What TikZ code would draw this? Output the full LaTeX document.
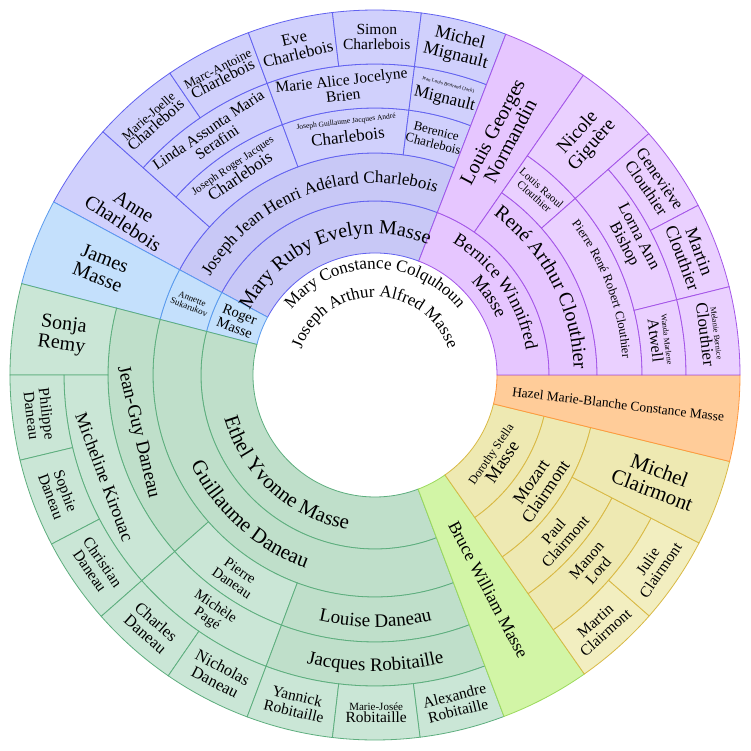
\documentclass[tikz,border=0pt]{standalone}
\usepackage{fontspec}
\setmainfont{Liberation Serif}
\usetikzlibrary{decorations.text}
\newcommand\fs[1]{\fontsize{#1}{#1}\selectfont}
\newcommand\seg[5]{\filldraw[#5] (#1:#3pt) arc[start angle=#1,end angle=#2,radius=#3pt] -- (#2:#4pt) arc[start angle=#2,end angle=#1,radius=#4pt] -- cycle;}
\newcommand\arctxt[5]{\path[decorate,decoration={text along path,text align=center,text={|\fs{#4}|#5}}] (#1:#3pt) arc[start angle=#1,end angle=#2,radius=#3pt];}
\definecolor{mrF}{HTML}{C8C8F6}\definecolor{mrL}{HTML}{D0D0FC}\definecolor{mrD}{HTML}{6262F0}
\definecolor{beF}{HTML}{E6C6FF}\definecolor{beL}{HTML}{EAD0FF}\definecolor{beD}{HTML}{A455E8}
\definecolor{roF}{HTML}{C4E0FC}\definecolor{roD}{HTML}{5A9BEE}
\definecolor{etF}{HTML}{BFDFCA}\definecolor{etL}{HTML}{CAE6D6}\definecolor{etD}{HTML}{5DAE7E}
\definecolor{brF}{HTML}{D2F5A6}\definecolor{brD}{HTML}{9CDA5C}
\definecolor{doF}{HTML}{EEE9B2}\definecolor{doL}{HTML}{F2EEC0}\definecolor{doD}{HTML}{D9B944}
\definecolor{haF}{HTML}{FFCC99}\definecolor{haD}{HTML}{FF9940}
\tikzset{lbl/.style={align=center,inner sep=0pt},
 mr/.style={fill=mrF,draw=mrD,line width=0.8pt}, mrl/.style={fill=mrL,draw=mrD,line width=0.8pt},
 be/.style={fill=beF,draw=beD,line width=0.8pt}, bel/.style={fill=beL,draw=beD,line width=0.8pt},
 ro/.style={fill=roF,draw=roD,line width=0.8pt},
 et/.style={fill=etF,draw=etD,line width=0.8pt}, etl/.style={fill=etL,draw=etD,line width=0.8pt},
 br/.style={fill=brF,draw=brD,line width=0.8pt},
 do/.style={fill=doF,draw=doD,line width=0.8pt}, dol/.style={fill=doL,draw=doD,line width=0.8pt},
 ha/.style={fill=haF,draw=haD,line width=0.8pt}}
\begin{document}
\begin{tikzpicture}
\useasboundingbox[fill=white] (-375pt,-375pt) rectangle (376pt,375pt);
% Mary Ruby
\seg{69}{151.7}{122}{174}{mr}\seg{69}{151.7}{174}{222}{mr}
\seg{138.2}{151.7}{222}{365}{mrl}
\seg{110.3}{138.2}{222}{267}{mrl}\seg{110.3}{138.2}{267}{311}{mrl}
\seg{124.2}{138.2}{311}{365}{mrl}\seg{110.3}{124.2}{311}{365}{mrl}
\seg{82.7}{110.3}{222}{267}{mrl}\seg{82.7}{110.3}{267}{311}{mrl}
\seg{96.7}{110.3}{311}{365}{mrl}\seg{82.7}{96.7}{311}{365}{mrl}
\seg{69}{82.7}{222}{267}{mrl}\seg{69}{82.7}{267}{311}{mrl}\seg{69}{82.7}{311}{365}{mrl}
% Roger
\seg{151.7}{165.5}{122}{174}{ro}\seg{151.7}{165.5}{174}{222}{ro}\seg{151.7}{165.5}{222}{365}{ro}
% Ethel
\seg{165.5}{290.7}{122}{174}{et}\seg{165.5}{290.7}{174}{222}{et}
\seg{165.5}{221.4}{222}{267}{et}\seg{165.5}{180}{267}{365}{etl}
\seg{180}{221.4}{267}{311}{etl}
\seg{180}{193.5}{311}{365}{etl}\seg{193.5}{207.6}{311}{365}{etl}\seg{207.6}{221.4}{311}{365}{etl}
\seg{221.4}{249.5}{222}{267}{etl}\seg{221.4}{249.5}{267}{311}{etl}
\seg{221.4}{235.5}{311}{365}{etl}\seg{235.5}{249.5}{311}{365}{etl}
\seg{249.5}{290.7}{222}{267}{et}\seg{249.5}{290.7}{267}{311}{et}
\seg{249.5}{263.3}{311}{365}{etl}\seg{263.3}{277.1}{311}{365}{etl}\seg{277.1}{290.7}{311}{365}{etl}
% Bruce
\seg{290.7}{305}{122}{365}{br}
% Dorothy
\seg{305}{346.3}{122}{174}{do}\seg{305}{346.3}{174}{222}{do}
\seg{305}{332.6}{222}{267}{do}\seg{305}{332.6}{267}{311}{do}
\seg{305}{318.7}{311}{365}{dol}\seg{318.7}{332.6}{311}{365}{dol}
\seg{332.6}{346.3}{222}{365}{do}
% Hazel
\seg{346.3}{360}{122}{365}{ha}
% Bernice
\seg{0}{69}{122}{174}{be}\seg{55.2}{69}{174}{365}{be}\seg{0}{55.2}{174}{222}{be}
\seg{41.4}{55.2}{222}{267}{bel}\seg{41.4}{55.2}{267}{365}{bel}
\seg{0}{41.4}{222}{267}{bel}\seg{14}{41.4}{267}{311}{bel}
\seg{27.7}{41.4}{311}{365}{bel}\seg{14}{27.7}{311}{365}{bel}
\seg{0}{14}{267}{311}{bel}\seg{0}{14}{311}{365}{bel}
% curved texts
\arctxt{160}{20}{106}{17}{Mary Constance Colquhoun}
\arctxt{178}{2}{78}{17}{Joseph Arthur Alfred Masse}
\arctxt{151.7}{69}{141}{20}{Mary Ruby Evelyn Masse}
\arctxt{151.7}{69}{192}{17}{Joseph Jean Henri Adélard Charlebois}
\arctxt{165.5}{290.7}{157}{21}{Ethel Yvonne Masse}
\arctxt{165.5}{290.7}{205}{21}{Guillaume Daneau}
\arctxt{249.5}{290.7}{252}{19}{Louise Daneau}
\arctxt{249.5}{290.7}{296}{19}{Jacques Robitaille}
\arctxt{69}{0}{153}{18}{Bernice Winnifred}
\arctxt{69}{0}{134}{18}{Masse}
\arctxt{55.2}{0}{199}{20}{René Arthur Clouthier}
\arctxt{41.4}{0}{248}{12.5}{Pierre René Robert Clouthier}
% Mary Ruby labels
\node[lbl,rotate=-33,font=\fs{20}] (anne) at (147:294pt) {Anne\\Charlebois};
\node[lbl,rotate=34.2] (jrj) at (124.2:246pt) {{\fs{11}Joseph Roger Jacques}\\{\fs{17}Charlebois}};
\node[lbl,rotate=34.2,font=\fs{15.5}] (linda) at (124.2:289pt) {Linda Assunta Maria\\Serafini};
\node[lbl,rotate=41.2] (mj) at (131.2:338pt) {{\fs{13}Marie-Joelle}\\{\fs{16}Charlebois}};
\node[lbl,rotate=27.2] (ma) at (117.2:338pt) {{\fs{13}Marc-Antoine}\\{\fs{16}Charlebois}};
\node[lbl,rotate=13.5,font=\fs{16.5}] (eve) at (103.5:338pt) {Eve\\Charlebois};
\node[lbl,rotate=-0.3,font=\fs{15.5}] (simon) at (89.7:338pt) {Simon\\Charlebois};
\node[lbl,rotate=-14.15,font=\fs{18}] (michelm) at (75.85:338pt) {Michel\\Mignault};
\node[lbl,rotate=6.5,font=\fs{15.5}] (mab) at (96.5:289pt) {Marie Alice Jocelyne\\Brien};
\node[lbl,rotate=-14.15] (jlb) at (75.85:289pt) {{\fs{5}Jean Louis Bertrand (Jack)}\\[4pt]{\fs{17}Mignault}};
\node[lbl,rotate=6.5] (jgja) at (96.5:246pt) {{\fs{7.5}Joseph Guillaume Jacques André}\\[4pt]{\fs{17}Charlebois}};
\node[lbl,rotate=-14.15,font=\fs{13}] (berenice) at (75.85:245pt) {Berenice\\Charlebois};
% Roger labels
\node[lbl,rotate=-21.4,font=\fs{14.5}] (roger) at (158.6:148pt) {Roger\\Masse};
\node[lbl,rotate=-21.4,font=\fs{9}] (annette) at (158.6:198pt) {Annette\\Sukarukov};
\node[lbl,rotate=-21.4,font=\fs{20}] (james) at (158.6:294pt) {James\\Masse};
% Ethel labels
\node[lbl,rotate=-76.5,font=\fs{19}] (jeanguy) at (193.5:244pt) {Jean-Guy Daneau};
\node[lbl,rotate=-7.3,font=\fs{20}] (sonja) at (172.7:315pt) {Sonja\\Remy};
\node[lbl,rotate=-69.3,font=\fs{18}] (micheline) at (200.7:289pt) {Micheline Kirouac};
\node[lbl,rotate=-83.25,font=\fs{15.5}] (philippe) at (186.75:338pt) {Philippe\\Daneau};
\node[lbl,rotate=-69.45,font=\fs{15.5}] (sophie) at (200.55:338pt) {Sophie\\Daneau};
\node[lbl,rotate=-55.5,font=\fs{15.5}] (christian) at (214.5:338pt) {Christian\\Daneau};
\node[lbl,rotate=-41.55,font=\fs{16.5}] (charles) at (228.45:338pt) {Charles\\Daneau};
\node[lbl,rotate=-27.5,font=\fs{16.5}] (nicholas) at (242.5:338pt) {Nicholas\\Daneau};
\node[lbl,rotate=-13.6,font=\fs{15.5}] (yannick) at (256.4:338pt) {Yannick\\Robitaille};
\node[lbl,rotate=0.2] (mariejosee) at (270.2:338pt) {{\fs{11}Marie-Josée}\\{\fs{15.5}Robitaille}};
\node[lbl,rotate=13.9,font=\fs{15.5}] (alexandre) at (283.9:338pt) {Alexandre\\Robitaille};
\node[lbl,rotate=-34.55,font=\fs{14.5}] (pierre) at (235.45:245pt) {Pierre\\Daneau};
\node[lbl,rotate=-34.55,font=\fs{14.5}] (michele) at (235.45:289pt) {Michèle\\Pagé};
% Bruce
\node[lbl,rotate=297.85,font=\fs{17.5}] (bruce) at (297.85:243pt) {Bruce William Masse};
% Dorothy labels
\node[lbl,rotate=55.65] (dorothy) at (325.65:148pt) {{\fs{12}Dorothy Stella}\\{\fs{18}Masse}};
\node[lbl,rotate=55.65,font=\fs{17.5}] (mozart) at (325.65:198pt) {Mozart\\Clairmont};
\node[lbl,rotate=48.8,font=\fs{15.5}] (paul) at (318.8:245pt) {Paul\\Clairmont};
\node[lbl,rotate=48.8,font=\fs{15.5}] (manon) at (318.8:289pt) {Manon\\Lord};
\node[lbl,rotate=41.85,font=\fs{15.5}] (martinc) at (311.85:338pt) {Martin\\Clairmont};
\node[lbl,rotate=55.65,font=\fs{15.5}] (julie) at (325.65:338pt) {Julie\\Clairmont};
\node[lbl,rotate=-20.55,font=\fs{21}] (michelc) at (339.45:300pt) {Michel\\Clairmont};
% Hazel
\node[lbl,rotate=-6.85,font=\fs{13.5}] (hazel) at (353.15:245pt) {Hazel Marie-Blanche Constance Masse};
% Bernice labels
\node[lbl,rotate=-41.7,font=\fs{11}] (louisraoul) at (48.3:245pt) {Louis Raoul\\Clouthier};
\node[lbl,rotate=48.3,font=\fs{19}] (nicole) at (48.3:316pt) {Nicole\\Giguère};
\node[lbl,rotate=62.1,font=\fs{20}] (louisg) at (62.1:270pt) {Louis Georges\\Normandin};
\node[lbl,rotate=-62.3,font=\fs{16.5}] (lorna) at (27.7:289pt) {Lorna Ann\\Bishop};
\node[lbl,rotate=-55.45,font=\fs{16.5}] (genevieve) at (34.55:338pt) {Geneviève\\Clouthier};
\node[lbl,rotate=-69.15,font=\fs{18}] (martincl) at (20.85:338pt) {Martin\\Clouthier};
\node[lbl,rotate=-83] (wanda) at (7:287pt) {{\fs{8}Wanda Marlene}\\[2pt]{\fs{16}Atwell}};
\node[lbl,rotate=-83] (melanie) at (7:337pt) {{\fs{8}Melanie Bernice}\\[2pt]{\fs{17}Clouthier}};
\end{tikzpicture}
\end{document}
